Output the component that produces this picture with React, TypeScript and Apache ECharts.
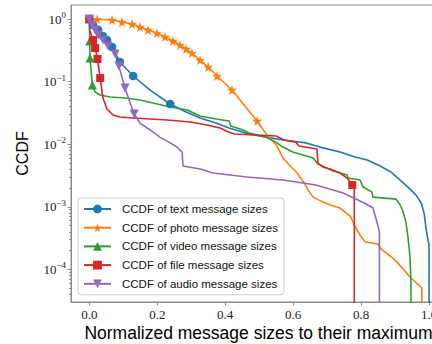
import React, { useEffect, useRef } from "react";
import * as echarts from "echarts";

type Pt = [number, number];

// CCDF of message sizes, [normalized size, CCDF]; each curve ends with a drop below the axis floor.
const textCurve: Pt[] = [
  [0.005, 0.863], [0.017, 0.718], [0.032, 0.62], [0.179, 0.0734], [0.285, 0.0327],
  [0.326, 0.0262], [0.373, 0.0218], [0.411, 0.0182], [0.47, 0.0146], [0.52, 0.013],
  [0.57, 0.0117], [0.638, 0.0105], [0.679, 0.009], [0.738, 0.0075], [0.782, 0.00625],
  [0.818, 0.0056], [0.856, 0.00449], [0.888, 0.0036], [0.915, 0.00268], [0.938, 0.00207],
  [0.962, 0.00154], [0.977, 0.00115], [0.986, 0.00077], [0.991, 0.000458], [0.997, 0.000295],
  [1.0, 0.00025], [1.0, 1e-6],
];
const textMarkers: Pt[] = [
  [0, 1], [0.011, 0.802], [0.026, 0.667], [0.04, 0.535], [0.052, 0.462], [0.067, 0.357],
  [0.09, 0.206], [0.129, 0.123], [0.238, 0.0439],
];

const photoCurve: Pt[] = [
  [0.523, 0.014], [0.553, 0.00935], [0.57, 0.00602], [0.597, 0.00417], [0.612, 0.00347],
  [0.62, 0.00299], [0.635, 0.00231], [0.644, 0.00185], [0.659, 0.00143], [0.688, 0.00119],
  [0.709, 0.00107], [0.738, 0.000957], [0.753, 0.000826], [0.768, 0.000713], [0.782, 0.000493],
  [0.797, 0.000355], [0.812, 0.000274], [0.85, 0.000255], [0.859, 0.000212], [0.886, 0.000164],
  [0.906, 0.000131], [0.944, 0.0000757], [0.979, 0.0000505], [0.979, 1e-6],
];
const photoMarkers: Pt[] = [
  [0, 1], [0.023, 0.99], [0.067, 0.964], [0.096, 0.896], [0.126, 0.832], [0.149, 0.745],
  [0.173, 0.667], [0.199, 0.597], [0.223, 0.516], [0.246, 0.445], [0.267, 0.384],
  [0.285, 0.332], [0.302, 0.286], [0.326, 0.221], [0.35, 0.171], [0.376, 0.123],
  [0.42, 0.0734], [0.494, 0.0235],
];

const videoCurve: Pt[] = [
  [0.017, 0.0682], [0.032, 0.0611], [0.061, 0.0568], [0.105, 0.0547], [0.149, 0.0508],
  [0.238, 0.0393], [0.288, 0.0352], [0.326, 0.0282], [0.373, 0.0253], [0.411, 0.0235],
  [0.417, 0.0195], [0.452, 0.0169], [0.47, 0.0151], [0.52, 0.013], [0.549, 0.0108],
  [0.57, 0.00902], [0.599, 0.0075], [0.659, 0.00602], [0.673, 0.00483], [0.718, 0.00373],
  [0.759, 0.00322], [0.762, 0.00288], [0.797, 0.00268], [0.806, 0.00207], [0.832, 0.00172],
  [0.835, 0.00143], [0.903, 0.00133], [0.915, 0.00107], [0.923, 0.000857], [0.932, 0.000572],
  [0.938, 0.00033], [0.944, 0.000158], [0.947, 0.0000564], [0.947, 1e-6],
];
const videoMarkers: Pt[] = [[0, 1], [0.001, 0.445], [0.002, 0.238], [0.009, 0.0882]];

const fileCurve: Pt[] = [
  [0.001, 0.667], [0.04, 0.0547], [0.052, 0.0365], [0.07, 0.0293], [0.09, 0.0272],
  [0.129, 0.0262], [0.229, 0.0244], [0.297, 0.0226], [0.347, 0.0203], [0.385, 0.0182],
  [0.403, 0.0163], [0.426, 0.0146], [0.55, 0.0135], [0.573, 0.0117], [0.608, 0.0108],
  [0.617, 0.00935], [0.67, 0.00838], [0.673, 0.00501], [0.688, 0.00432], [0.709, 0.00402],
  [0.738, 0.00347], [0.759, 0.00288], [0.78, 0.0022], [0.78, 1e-6],
];
const fileMarkers: Pt[] = [
  [0, 1], [0.011, 0.462], [0.017, 0.344], [0.024, 0.23], [0.032, 0.114], [0.774, 0.00223],
];

const audioCurve: Pt[] = [
  [0.12, 0.0455], [0.149, 0.0218], [0.179, 0.0169], [0.208, 0.013], [0.238, 0.0105],
  [0.258, 0.00902], [0.273, 0.0075], [0.276, 0.00449], [0.326, 0.00402], [0.364, 0.00347],
  [0.464, 0.00299], [0.57, 0.00268], [0.667, 0.00223], [0.747, 0.00166], [0.785, 0.00133],
  [0.815, 0.00111], [0.835, 0.000957], [0.85, 0.000493], [0.854, 0.000395], [0.854, 1e-6],
];
const audioMarkers: Pt[] = [
  [0, 1], [0.008, 0.802], [0.017, 0.667], [0.026, 0.555], [0.04, 0.462], [0.055, 0.371],
  [0.076, 0.276], [0.087, 0.177], [0.105, 0.0791], [0.132, 0.0304],
];

const seriesNames = [
  "CCDF of text message sizes",
  "CCDF of photo message sizes",
  "CCDF of video message sizes",
  "CCDF of file message sizes",
  "CCDF of audio message sizes",
];
const seriesColors = ["#1f77b4", "#ff7f0e", "#2ca02c", "#d62728", "#9467bd"];

const xTicks = [0, 0.2, 0.4, 0.6, 0.8, 1.0];
const yDecades = [-4, -3, -2, -1, 0];

const STAR =
  "path://M50 0 L61.17 34.63 L97.55 34.55 L68.07 55.87 L79.39 90.45 L50 69 L20.61 90.45 L31.93 55.87 L2.45 34.55 L38.83 34.63 Z";

// Curve vertices and marker points merged into one polyline; only markers get a symbol.
function buildData(curve: Pt[], marks: Pt[]) {
  const all = [
    ...curve.map((p) => ({ p, mark: false })),
    ...marks.map((p) => ({ p, mark: true })),
  ].sort((a, b) => a.p[0] - b.p[0] || b.p[1] - a.p[1]);
  return all.map(({ p, mark }) =>
    mark
      ? { value: [p[0], Math.log10(p[1])] }
      : { value: [p[0], Math.log10(p[1])], symbol: "none" }
  );
}

function minorTicks(): number[] {
  const out: number[] = [];
  for (let d = -5; d <= 0; d++) {
    for (let k = 2; k <= 9; k++) {
      const v = d + Math.log10(k);
      if (v > -4.52 && v < 0.224) out.push(v);
    }
  }
  return out;
}

export default function App() {
  const ref = useRef<HTMLDivElement>(null);

  useEffect(() => {
    if (!ref.current) return;
    const chart = echarts.init(ref.current, undefined, { renderer: "svg" });

    const curves = [
      [textCurve, textMarkers, "circle", 8.5, 0],
      [photoCurve, photoMarkers, STAR, 10, 0],
      [videoCurve, videoMarkers, "triangle", 9, 0],
      [fileCurve, fileMarkers, "rect", 8, 0],
      [audioCurve, audioMarkers, "triangle", 9, 180],
    ] as const;

    const axisGray = "#8a8a8a";

    chart.setOption({
      animation: false,
      grid: {
        left: 71,
        top: 5,
        width: 375,
        height: 297,
        show: true,
        borderColor: axisGray,
        borderWidth: 1,
      },
      xAxis: {
        type: "value",
        min: -0.054,
        max: 1.05,
        splitLine: { show: false },
        axisLine: { show: true, onZero: false, lineStyle: { color: axisGray, width: 1 } },
        axisTick: {
          show: true,
          length: 3.5,
          customValues: xTicks,
          lineStyle: { color: axisGray },
        },
        axisLabel: {
          customValues: xTicks,
          formatter: (v: number) => v.toFixed(1),
          fontFamily: "Liberation Serif",
          fontSize: 13,
          color: "#222",
          margin: 6,
        },
      },
      yAxis: [
        {
          type: "value",
          min: -4.52,
          max: 0.224,
          splitLine: { show: false },
          axisLine: { show: true, onZero: false, lineStyle: { color: axisGray, width: 1 } },
          axisTick: {
            show: true,
            length: 3.5,
            customValues: yDecades,
            lineStyle: { color: axisGray },
          },
          axisLabel: {
            customValues: yDecades,
            margin: 5,
            formatter: (v: number) =>
              `{b|10}{s|${v === 0 ? "0" : "\u2212" + Math.abs(v)}}`,
            rich: {
              b: { fontFamily: "Liberation Serif", fontSize: 13, color: "#222", lineHeight: 17 },
              s: {
                fontFamily: "Liberation Serif",
                fontSize: 9,
                color: "#222",
                verticalAlign: "top",
                lineHeight: 10,
              },
            },
          },
        },
        {
          type: "value",
          min: -4.52,
          max: 0.224,
          position: "left",
          splitLine: { show: false },
          axisLine: { show: false, onZero: false },
          axisLabel: { show: false },
          axisTick: {
            show: true,
            length: 2,
            customValues: minorTicks(),
            lineStyle: { color: axisGray },
          },
        },
      ],
      legend: {
        orient: "vertical",
        left: 78,
        top: 198,
        itemWidth: 27,
        itemHeight: 11,
        itemGap: 4.7,
        padding: [4, 6, 4, 5],
        backgroundColor: "rgba(255,255,255,0.8)",
        borderColor: "#cccccc",
        borderWidth: 1,
        borderRadius: 3,
        selectedMode: false,
        textStyle: {
          fontFamily: "Liberation Sans",
          fontSize: 11.5,
          color: "#111",
          lineHeight: 14,
          padding: [0, 0, 0, 6],
        },
        data: seriesNames,
      },
      graphic: [
        {
          type: "text",
          x: 22.5,
          y: 153.5,
          rotation: Math.PI / 2,
          style: {
            text: "CCDF",
            fontFamily: "Liberation Sans",
            fontSize: 16,
            fill: "#000",
            align: "center",
            verticalAlign: "middle",
          },
        },
        {
          type: "text",
          x: 258.5,
          y: 333,
          style: {
            text: "Normalized message sizes to their maximum",
            fontFamily: "Liberation Sans",
            fontSize: 17.5,
            fill: "#000",
            align: "center",
            verticalAlign: "middle",
          },
        },
      ],
      series: curves.map(([curve, marks, symbol, size, rot], i) => ({
        type: "line",
        name: seriesNames[i],
        data: buildData(curve as Pt[], marks as Pt[]),
        symbol,
        symbolSize: size,
        symbolRotate: rot,
        showSymbol: true,
        clip: true,
        silent: true,
        color: seriesColors[i],
        lineStyle: { width: 1.6, color: seriesColors[i], join: "round" },
        itemStyle: { color: seriesColors[i] },
        emphasis: { disabled: true },
        yAxisIndex: 0,
      })),
    });

    return () => chart.dispose();
  }, []);

  // The plot frame runs past the right edge of the 432px view, so the canvas is wider and clipped.
  return (
    <div
      style={{
        position: "absolute",
        left: 0,
        top: 0,
        width: 432,
        height: 344,
        overflow: "hidden",
        background: "#fff",
      }}
    >
      <div ref={ref} style={{ width: 470, height: 344 }} />
    </div>
  );
}
